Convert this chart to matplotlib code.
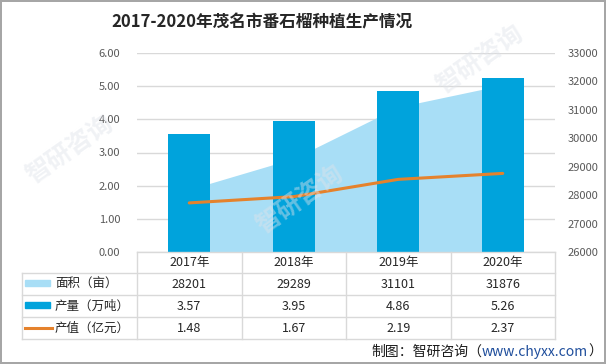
import numpy as np
import matplotlib.pyplot as plt
from matplotlib.patches import Rectangle
from matplotlib.lines import Line2D

plt.rcParams['font.family'] = ['Noto Sans CJK SC', 'DejaVu Sans']

years = ['2017年', '2018年', '2019年', '2020年']
area = [28201, 29289, 31101, 31876]      # 面积（亩）
output = [3.57, 3.95, 4.86, 5.26]        # 产量（万吨）
value = [1.48, 1.67, 2.19, 2.37]         # 产值（亿元）
row_names = ['面积（亩）', '产量（万吨）', '产值（亿元）']
row_texts = [[str(v) for v in area], ['%.2f' % v for v in output], ['%.2f' % v for v in value]]

c_area = '#a8def6'
c_bar = '#00a3dc'
c_line = '#e5822c'
c_grid = '#d9d9d9'

fig = plt.figure(figsize=(6.06, 3.64), dpi=100)
fig.patch.set_edgecolor('#a6a6a6')
fig.patch.set_linewidth(1.5)

W, H = 606, 364
x0, x1, ytop, ybot = 137, 555, 53, 252
rect = [x0 / W, (H - ybot) / H, (x1 - x0) / W, (ybot - ytop) / H]

x = np.arange(len(years))

# layer 1: gridlines (left scale)
ax = fig.add_axes(rect)
ax.set_xlim(-0.5, 3.5)
ax.set_ylim(0, 6)
ax.set_yticks(np.arange(0, 7, 1))
ax.yaxis.set_major_formatter(plt.FuncFormatter(lambda v, p: '%.2f' % v))
ax.grid(axis='y', color=c_grid, lw=1)
ax.set_axisbelow(True)
ax.tick_params(axis='y', length=0, pad=12, labelsize=8, labelcolor='#595959')
ax.set_xticks([])
for s in ax.spines.values():
    s.set_visible(False)

# layer 2: area (right scale)
ax2 = ax.twinx()
ax2.fill_between(x, 26000, area, color=c_area, lw=0)
ax2.set_ylim(26000, 33000)
ax2.set_yticks(np.arange(26000, 33001, 1000))
ax2.tick_params(axis='y', length=0, pad=9, labelsize=8, labelcolor='#595959')
for s in ax2.spines.values():
    s.set_visible(False)

# layer 3: bars + line (left scale)
ax3 = ax.twinx()
ax3.set_ylim(0, 6)
ax3.set_xlim(-0.5, 3.5)
ax3.bar(x, output, width=0.4, color=c_bar)
ax3.plot(x, value, color=c_line, lw=2.2, solid_capstyle='round')
ax3.set_yticks([])
for s in ax3.spines.values():
    s.set_visible(False)
ax.set_zorder(1)
ax2.set_zorder(2)
ax3.set_zorder(3)
ax2.patch.set_visible(False)
ax3.patch.set_visible(False)

# data table under the plot
def fy(px):
    return (ybot - px) / (ybot - ytop)

def fx(px):
    return (px - x0) / (x1 - x0)

tr = ax3.transAxes
lines = [([0, 1], [fy(252), fy(252)])]
for yy in [273, 295, 317, 339]:
    lines.append(([fx(22), 1], [fy(yy), fy(yy)]))
lines.append(([fx(22), fx(22)], [fy(273), fy(339)]))
for k in range(5):
    lines.append(([k / 4, k / 4], [fy(252), fy(339)]))
for xs, ys in lines:
    ax3.add_line(Line2D(xs, ys, transform=tr, color=c_grid, lw=1, clip_on=False))

xt = ax3.get_xaxis_transform()
for i, yr in enumerate(years):
    ax3.text(i, fy(262.5), yr, transform=xt, ha='center', va='center', fontsize=9, color='#262626')
row_c = [284, 306, 328]
for r in range(3):
    for i in range(4):
        ax3.text(i, fy(row_c[r]), row_texts[r][i], transform=xt, ha='center', va='center',
                 fontsize=9, color='#262626')
    ax3.text(fx(55), fy(row_c[r]), row_names[r], transform=tr, ha='left', va='center',
             fontsize=9, color='#262626')

# legend keys
ax3.add_patch(Rectangle((fx(25), fy(286)), fx(50) - fx(25), fy(280) - fy(286), transform=tr,
                        color=c_area, clip_on=False))
ax3.add_patch(Rectangle((fx(25), fy(308)), fx(50) - fx(25), fy(302) - fy(308), transform=tr,
                        color=c_bar, clip_on=False))
ax3.add_line(Line2D([fx(25), fx(52)], [fy(327.5), fy(327.5)], transform=tr, color=c_line,
                    lw=2.2, clip_on=False))

# title
fig.text(262 / W, 1 - 22 / H, '2017-2020年茂名市番石榴种植生产情况', ha='center', va='center',
         fontsize=12, fontweight='bold', color='#262626')

# faint watermarks
for wx, wy in [(70, 150), (300, 200), (480, 60)]:
    fig.text(wx / W, 1 - wy / H, '智研咨询', rotation=35, fontsize=18, color='#dfe3ea',
             ha='center', va='center', alpha=0.45, fontweight='bold', zorder=10)

# source note
t1 = fig.text(602 / W, 1 - 352 / H, '）', ha='right', va='center', fontsize=10, color='#1a1a1a')
t2 = plt.annotate('www.chyxx.com', xy=(0, 0.5), xycoords=t1, ha='right', va='center',
                  fontsize=10, color='#1f4e9c')
t3 = plt.annotate('制图：智研咨询（', xy=(0, 0.5), xycoords=t2, ha='right', va='center',
                  fontsize=10, color='#1a1a1a')

fig.savefig('out.png', dpi=100)
